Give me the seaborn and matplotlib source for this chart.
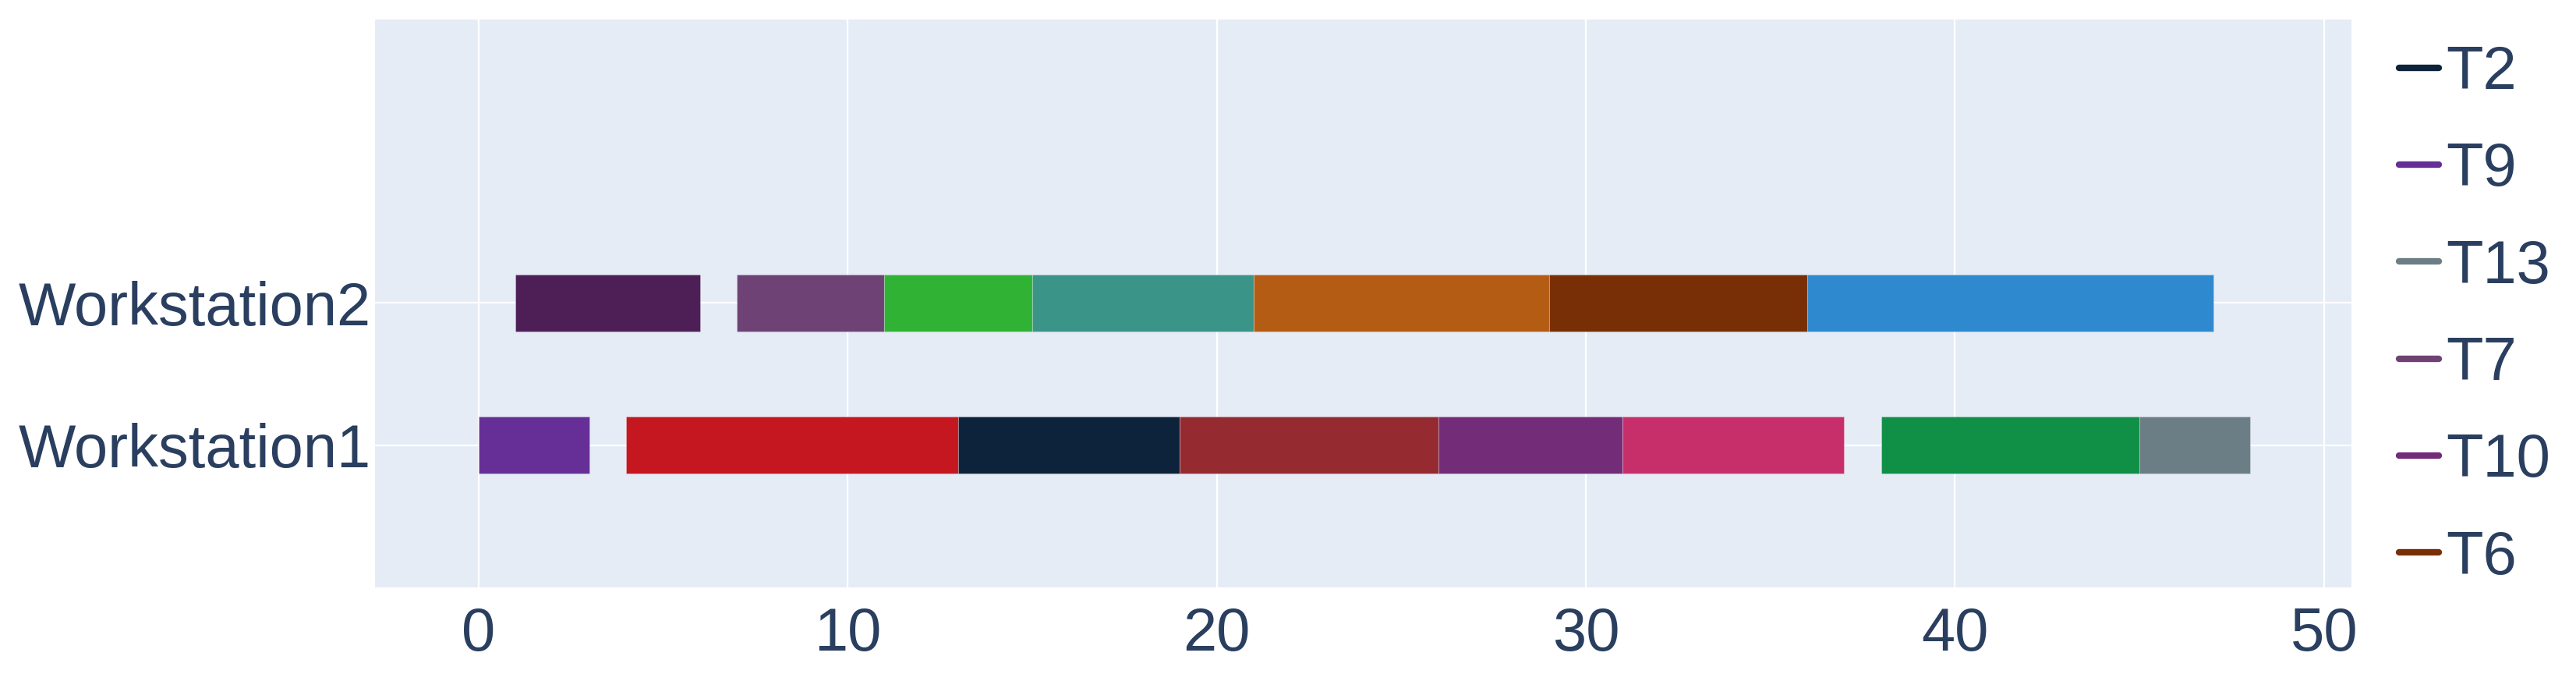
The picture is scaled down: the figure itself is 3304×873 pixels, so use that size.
"""Workstation schedule as a horizontal Gantt chart."""

import matplotlib
matplotlib.use("Agg")
import matplotlib.pyplot as plt
from matplotlib.lines import Line2D
import pandas as pd
import seaborn as sns

# data
tasks = ["T9", "T4", "T2", "T11", "T10", "T14", "T5", "T13",
         "T1", "T7", "T3", "T8", "T12", "T6", "T15"]
stations = ["Workstation1"] * 8 + ["Workstation2"] * 7
starts = [0, 4, 13, 19, 26, 31, 38, 45,
          1, 7, 11, 15, 21, 29, 36]
finishes = [3, 13, 19, 26, 31, 37, 45, 48,
            6, 11, 15, 21, 29, 36, 47]
colors = ["#652f97", "#c4171f", "#0c233b", "#952a31", "#722c78", "#c72f6b", "#108f46", "#6c7e85",
          "#4e1f57", "#6f4275", "#30b335", "#3a9488", "#b45c13", "#782f05", "#2e89cf"]
station_order = ["Workstation1", "Workstation2"]
legend_tasks = ["T2", "T9", "T13", "T7", "T10", "T6"]
x_ticks = [0, 10, 20, 30, 40, 50]

df = pd.DataFrame({"Task": tasks, "Station": stations, "Start": starts, "Finish": finishes})
df["Duration"] = df["Finish"] - df["Start"]
df["ypos"] = df["Station"].map({s: i for i, s in enumerate(station_order)})
palette = dict(zip(tasks, colors))

TEXT = "#2a3f5f"
sns.set_theme(style="darkgrid", rc={
    "axes.facecolor": "#e5ecf6",
    "grid.color": "white",
    "grid.linewidth": 1.6,
    "axes.edgecolor": "#e5ecf6",
})
plt.rcParams["font.family"] = ["Liberation Sans", "DejaVu Sans"]

fig = plt.figure(figsize=(33.04, 8.73), dpi=100)
ax = fig.add_axes([0.1456, 0.1375, 0.7672, 0.8339])

ax.barh(df["ypos"], df["Duration"], left=df["Start"], height=0.4,
        color=[palette[t] for t in df["Task"]],
        edgecolor=(1, 1, 1, 0.25), linewidth=0.8, zorder=3)

ax.set_xlim(-2.8, 50.74)
ax.set_ylim(-1.0, 2.99)
ax.set_xticks(x_ticks)
ax.set_yticks(range(len(station_order)))
ax.set_yticklabels(station_order)
ax.tick_params(axis="x", labelsize=56, colors=TEXT, length=0, pad=17)
ax.tick_params(axis="y", labelsize=56, colors=TEXT, length=0, pad=4)
ax.grid(True, axis="both", zorder=0)
ax.set_axisbelow(True)
for sp in ax.spines.values():
    sp.set_visible(False)

handles = [Line2D([0], [0], color=palette[t], lw=6) for t in legend_tasks]
leg = fig.legend(handles, legend_tasks, loc="upper left",
                 bbox_to_anchor=(3077 / 3304, 1 - 57 / 873),
                 frameon=False, fontsize=56, handlelength=0.66,
                 handletextpad=0.12, labelspacing=0.66, borderpad=0,
                 borderaxespad=0)
for txt in leg.get_texts():
    txt.set_color(TEXT)

fig.savefig("out.png", dpi=100, facecolor="white")
plt.close(fig)
